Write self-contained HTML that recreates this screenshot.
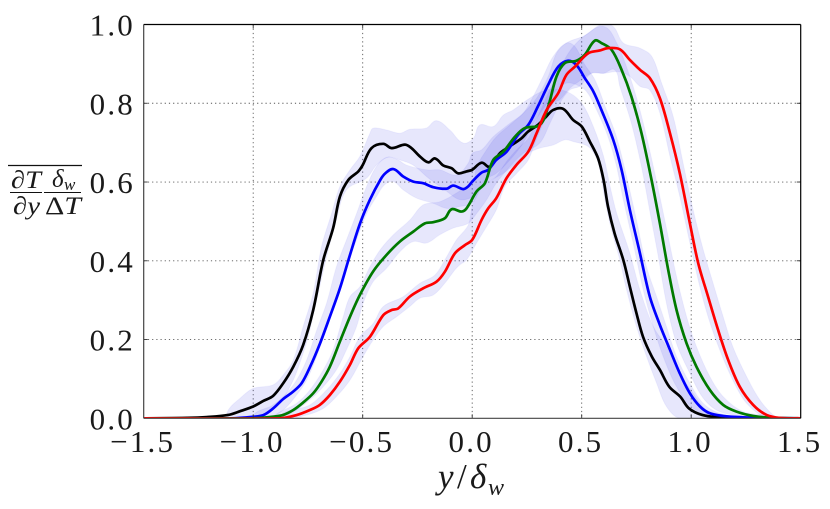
<!DOCTYPE html>
<html lang="en">
<head>
<meta charset="utf-8">
<title>Mean temperature gradient profile</title>
<style>
html,body{margin:0;padding:0;background:#fff;width:830px;height:509px;overflow:hidden}
svg{display:block}
text{font-family:"Liberation Serif","DejaVu Serif",serif;fill:#1a1a1a}
.tick{font-size:31px;letter-spacing:2.2px}
.math{font-style:italic}
</style>
</head>
<body>
<svg id="chart" xmlns="http://www.w3.org/2000/svg" width="830" height="509" viewBox="0 0 830 509">
  <defs>
    <clipPath id="plot-clip"><rect x="143.7" y="24.5" width="657" height="393.8"/></clipPath>
    <filter id="soft" x="-5%" y="-5%" width="110%" height="110%"><feGaussianBlur stdDeviation="0.35"/></filter>
  </defs>
  <g id="grid"></g>
  <g id="bands" clip-path="url(#plot-clip)"></g>
  <g id="lines" clip-path="url(#plot-clip)"></g>
  <g id="axes"></g>
  <g id="xlabels"></g>
  <g id="ylabels"></g>
  <g>
    <text x="438" y="488" class="math" font-size="35">y</text>
    <text x="457" y="488" font-size="35">/</text>
    <text x="470" y="488" class="math" font-size="35">δ</text>
    <text x="488" y="495" class="math" font-size="24">w</text>
  </g>
  <g>
    <line x1="8" y1="165.5" x2="82" y2="165.5" stroke="#111" stroke-width="1.3"/>
    <text x="11" y="188" font-size="25" textLength="30" lengthAdjust="spacingAndGlyphs"><tspan class="math">∂T</tspan></text>
    <line x1="10" y1="192.5" x2="42" y2="192.5" stroke="#111" stroke-width="1.1"/>
    <text x="13" y="214" font-size="25" textLength="27" lengthAdjust="spacingAndGlyphs"><tspan class="math">∂y</tspan></text>
    <text x="52" y="187" class="math" font-size="25">δ</text>
    <text x="64" y="190" class="math" font-size="17">w</text>
    <line x1="44" y1="192.5" x2="81" y2="192.5" stroke="#111" stroke-width="1.1"/>
    <text x="45" y="214" font-size="25" textLength="36" lengthAdjust="spacingAndGlyphs">Δ<tspan class="math">T</tspan></text>
  </g>
</svg>
<script>
const xTickValues = [-1.5, -1.0, -0.5, 0.0, 0.5, 1.0, 1.5];
const xTickLabels = ["−1.5", "−1.0", "−0.5", "0.0", "0.5", "1.0", "1.5"];
const yTickValues = [0.0, 0.2, 0.4, 0.6, 0.8, 1.0];
const yTickLabels = ["0.0", "0.2", "0.4", "0.6", "0.8", "1.0"];

const blackLine = [[-1.5,0],[-1.3,.001],[-1.213,.003],[-1.114,.0085],[-1.06,.018],[-1,.03],[-.954,.044],[-.909,.057],[-.863,.089],[-.817,.131],[-.772,.186],[-.726,.275],[-.68,.402],[-.635,.483],[-.604,.563],[-.566,.605],[-.52,.627],[-.5,.643],[-.46,.686],[-.406,.697],[-.368,.686],[-.307,.695],[-.277,.686],[-.239,.665],[-.2,.65],[-.17,.66],[-.132,.642],[-.094,.635],[-.064,.622],[-.026,.627],[0,.631],[.043,.649],[.08,.639],[.126,.673],[.17,.69],[.225,.711],[.255,.728],[.3,.745],[.338,.766],[.37,.783],[.415,.786],[.46,.758],[.5,.741],[.537,.703],[.575,.66],[.6,.605],[.62,.538],[.65,.47],[.69,.402],[.72,.334],[.75,.267],[.78,.207],[.82,.157],[.857,.123],[.9,.08],[.95,.055],[.99,.025],[1.05,.0085],[1.13,.002],[1.25,0],[1.5,0]];
const blueLine = [[-1.5,0],[-1.1,0],[-1,.004],[-.954,.008],[-.909,.025],[-.863,.049],[-.817,.068],[-.779,.089],[-.74,.131],[-.695,.19],[-.65,.258],[-.604,.33],[-.558,.415],[-.512,.495],[-.467,.555],[-.42,.605],[-.397,.622],[-.36,.633],[-.315,.614],[-.269,.601],[-.224,.597],[-.178,.587],[-.117,.583],[-.087,.591],[-.041,.582],[-.018,.589],[0,.601],[.043,.624],[.073,.631],[.11,.656],[.157,.677],[.21,.72],[.256,.745],[.3,.792],[.347,.847],[.393,.893],[.438,.908],[.476,.897],[.514,.864],[.553,.83],[.59,.783],[.644,.707],[.682,.631],[.72,.529],[.766,.419],[.811,.309],[.857,.237],[.903,.174],[.948,.114],[.994,.0635],[1.04,.03],[1.085,.0127],[1.146,.006],[1.237,.0025],[1.344,.001],[1.5,0]];
const greenLine = [[-1.5,0],[-1,0],[-.909,.004],[-.863,.0085],[-.817,.021],[-.772,.04],[-.726,.0635],[-.688,.093],[-.65,.131],[-.604,.195],[-.558,.258],[-.513,.313],[-.452,.373],[-.391,.415],[-.33,.449],[-.269,.474],[-.216,.495],[-.178,.498],[-.125,.508],[-.094,.531],[-.049,.525],[-.026,.533],[.02,.576],[.058,.597],[.096,.656],[.142,.677],[.195,.715],[.24,.737],[.309,.745],[.347,.792],[.385,.868],[.423,.902],[.476,.908],[.514,.923],[.56,.959],[.59,.953],[.636,.936],[.682,.885],[.727,.817],[.773,.724],[.819,.605],[.857,.495],[.895,.377],[.933,.275],[.979,.19],[1.024,.131],[1.085,.072],[1.146,.034],[1.207,.017],[1.283,.006],[1.374,.001],[1.5,0]];
const redLine = [[-1.5,0],[-.88,0],[-.8,.0085],[-.741,.021],[-.696,.034],[-.65,.059],[-.604,.093],[-.559,.135],[-.52,.178],[-.467,.207],[-.406,.262],[-.368,.275],[-.338,.279],[-.285,.309],[-.224,.33],[-.163,.347],[-.125,.372],[-.079,.419],[-.033,.44],[0,.453],[.043,.504],[.073,.533],[.11,.559],[.157,.61],[.203,.644],[.256,.677],[.294,.724],[.34,.783],[.393,.826],[.43,.872],[.469,.893],[.53,.927],[.583,.934],[.62,.94],[.674,.937],[.72,.91],[.766,.885],[.811,.864],[.857,.813],[.903,.724],[.948,.622],[.994,.495],[1.032,.394],[1.077,.309],[1.123,.224],[1.169,.148],[1.222,.08],[1.283,.034],[1.344,.0085],[1.405,.001],[1.5,0]];

const blackBand = [[-1.114,.0],[-1.114,.021],[-1.06,.051],[-1,.076],[-.909,.085],[-.863,.11],[-.817,.148],[-.772,.233],[-.726,.318],[-.688,.436],[-.642,.52],[-.604,.589],[-.558,.631],[-.513,.665],[-.467,.724],[-.452,.737],[-.391,.732],[-.33,.724],[-.285,.734],[-.21,.737],[-.163,.756],[-.102,.732],[-.041,.699],[.005,.711],[.035,.745],[.096,.741],[.142,.77],[.187,.783],[.263,.813],[.34,.834],[.43,.83],[.5,.8],[.553,.741],[.6,.665],[.63,.588],[.66,.52],[.72,.419],[.766,.326],[.827,.233],[.887,.182],[.948,.114],[1.009,.0635],[1.07,.021],[1.16,.003],[.948,0],[.887,.03],[.842,.089],[.796,.157],[.75,.233],[.705,.326],[.674,.402],[.636,.478],[.606,.555],[.583,.631],[.568,.66],[.53,.69],[.46,.703],[.423,.707],[.37,.694],[.309,.686],[.256,.673],[.202,.648],[.142,.622],[.088,.605],[.035,.58],[.005,.563],[-.056,.555],[-.125,.58],[-.2,.61],[-.27,.643],[-.33,.656],[-.384,.663],[-.437,.643],[-.482,.61],[-.574,.58],[-.62,.504],[-.665,.41],[-.71,.3],[-.749,.207],[-.787,.14],[-.817,.097],[-.863,.051],[-.924,.017],[-1,.004]];
const blueBand = [[-1,.004],[-.909,.034],[-.848,.0635],[-.802,.097],[-.756,.148],[-.71,.224],[-.665,.292],[-.62,.385],[-.574,.453],[-.528,.52],[-.482,.589],[-.437,.64],[-.39,.663],[-.345,.658],[-.3,.643],[-.208,.631],[-.148,.631],[-.072,.618],[-.018,.648],[0,.673],[.043,.682],[.096,.715],[.172,.749],[.233,.775],[.278,.817],[.324,.868],[.37,.919],[.43,.953],[.469,.944],[.514,.898],[.56,.86],[.613,.783],[.659,.715],[.705,.614],[.75,.504],[.796,.385],[.842,.309],[.887,.233],[.933,.157],[.994,.089],[1.055,.038],[1.13,.0127],[1.237,.004],[1.344,.001],[1.13,.001],[1.009,.025],[.933,.08],[.872,.157],[.827,.233],[.781,.326],[.735,.445],[.69,.555],[.659,.64],[.62,.715],[.568,.783],[.522,.83],[.476,.847],[.43,.851],[.385,.834],[.332,.792],[.286,.754],[.233,.699],[.172,.656],[.11,.622],[.058,.605],[0,.546],[-.056,.538],[-.117,.533],[-.178,.546],[-.254,.559],[-.315,.58],[-.36,.601],[-.4,.593],[-.437,.563],[-.482,.52],[-.528,.453],[-.574,.385],[-.62,.309],[-.665,.233],[-.71,.157],[-.756,.097],[-.802,.059],[-.863,.021],[-.924,.004]];
const greenBand = [[-.909,.004],[-.802,.038],[-.741,.072],[-.68,.123],[-.635,.174],[-.589,.258],[-.558,.309],[-.513,.334],[-.467,.385],[-.42,.428],[-.36,.466],[-.284,.504],[-.224,.542],[-.148,.55],[-.072,.572],[.005,.605],[.02,.639],[.066,.682],[.11,.715],[.172,.745],[.233,.775],[.294,.813],[.347,.868],[.385,.927],[.43,.953],[.506,.97],[.6,.995],[.66,.953],[.72,.868],[.766,.783],[.81,.682],[.857,.563],[.895,.461],[.933,.36],[.979,.258],[1.024,.182],[1.085,.106],[1.146,.055],[1.237,.017],[1.374,.001],[1.283,.002],[1.13,.017],[1.055,.051],[.994,.114],[.933,.19],[.887,.292],[.85,.41],[.81,.529],[.773,.639],[.727,.749],[.674,.843],[.65,.885],[.6,.876],[.545,.876],[.49,.843],[.446,.834],[.4,.8],[.355,.749],[.309,.699],[.233,.673],[.172,.639],[.11,.597],[.066,.555],[.02,.52],[-.018,.495],[-.087,.483],[-.148,.466],[-.208,.445],[-.269,.449],[-.33,.423],[-.391,.381],[-.452,.347],[-.498,.292],[-.528,.233],[-.574,.174],[-.62,.123],[-.68,.08],[-.741,.047],[-.802,.021],[-.863,.004]];
const redBand = [[-.88,0],[-.741,.034],[-.665,.072],[-.604,.114],[-.558,.157],[-.513,.207],[-.452,.241],[-.406,.284],[-.315,.309],[-.239,.343],[-.17,.364],[-.117,.41],[-.072,.453],[-.018,.491],[0,.538],[.035,.58],[.073,.597],[.11,.614],[.157,.652],[.203,.682],[.256,.711],[.294,.758],[.34,.817],[.385,.868],[.43,.919],[.476,.953],[.53,.978],[.59,1.0],[.644,.995],[.69,.953],[.766,.94],[.82,.919],[.865,.851],[.918,.766],[.963,.648],[1.009,.529],[1.055,.428],[1.1,.343],[1.146,.258],[1.19,.182],[1.253,.106],[1.313,.047],[1.374,.0085],[1.405,0],[1.344,0],[1.253,.038],[1.19,.097],[1.13,.174],[1.077,.258],[1.032,.351],[.994,.445],[.948,.563],[.903,.665],[.857,.775],[.81,.834],[.766,.843],[.72,.868],[.667,.88],[.6,.876],[.545,.876],[.476,.851],[.446,.838],[.4,.809],[.37,.8],[.324,.749],[.286,.699],[.256,.656],[.203,.622],[.149,.589],[.11,.529],[.066,.487],[.02,.445],[-.026,.402],[-.056,.39],[-.079,.377],[-.125,.343],[-.178,.313],[-.239,.305],[-.285,.284],[-.345,.258],[-.406,.233],[-.452,.199],[-.498,.157],[-.558,.097],[-.62,.055],[-.68,.025],[-.756,.0085]];

const NS = "http://www.w3.org/2000/svg";
const plotLeft = 143.7, plotRight = 800.7, plotTop = 24.5, plotBottom = 418.3;
const xMin = -1.5, xMax = 1.5, yMin = 0, yMax = 1;
function xScale(v) { return plotLeft + (v - xMin) / (xMax - xMin) * (plotRight - plotLeft); }
function yScale(v) { return plotBottom - (v - yMin) / (yMax - yMin) * (plotBottom - plotTop); }
function makeEl(tag, parent, attrs) {
  const el = document.createElementNS(NS, tag);
  for (const key in attrs) el.setAttribute(key, attrs[key]);
  parent.appendChild(el);
  return el;
}
function smoothPath(rows, closed) {
  const pts = rows.map(function (p) { return [xScale(p[0]), yScale(p[1])]; });
  const n = pts.length;
  function at(i) {
    if (closed) return pts[(i + n) % n];
    return pts[Math.max(0, Math.min(n - 1, i))];
  }
  function tangent(i) {
    const a = at(i - 1), b = at(i + 1);
    const dx = b[0] - a[0], dy = b[1] - a[1];
    const len = Math.hypot(dx, dy) || 1;
    return [dx / len, dy / len];
  }
  let d = "M" + pts[0][0].toFixed(2) + " " + pts[0][1].toFixed(2);
  const last = closed ? n : n - 1;
  for (let i = 0; i < last; i++) {
    const p1 = at(i), p2 = at(i + 1);
    const seg = Math.hypot(p2[0] - p1[0], p2[1] - p1[1]) / 3;
    const t1 = tangent(i), t2 = tangent(i + 1);
    d += "C" + (p1[0] + t1[0] * seg).toFixed(2) + " " + (p1[1] + t1[1] * seg).toFixed(2) + " " +
      (p2[0] - t2[0] * seg).toFixed(2) + " " + (p2[1] - t2[1] * seg).toFixed(2) + " " +
      p2[0].toFixed(2) + " " + p2[1].toFixed(2);
  }
  return closed ? d + "Z" : d;
}

const gridGroup = document.getElementById("grid");
const axesGroup = document.getElementById("axes");
const xLabelGroup = document.getElementById("xlabels");
const yLabelGroup = document.getElementById("ylabels");
const bandGroup = document.getElementById("bands");
const lineGroup = document.getElementById("lines");

xTickValues.forEach(function (v, i) {
  const px = xScale(v);
  if (i > 0 && i < xTickValues.length - 1) {
    const g = makeEl("line", gridGroup, { x1: px, x2: px, y1: plotTop, y2: plotBottom, stroke: "#555", "stroke-width": 0.9, "stroke-dasharray": "1.2 3" });
    
    
    const t1 = makeEl("line", axesGroup, { x1: px, x2: px, y1: plotBottom, y2: plotBottom - 4, stroke: "#333", "stroke-width": 0.9 });
    
    
    const t2 = makeEl("line", axesGroup, { x1: px, x2: px, y1: plotTop, y2: plotTop + 4, stroke: "#333", "stroke-width": 0.9 });
    
    
  }
  const label = makeEl("text", xLabelGroup, { x: px - 1, y: 452, "text-anchor": "middle", "class": "tick" });
  label.textContent = xTickLabels[i];
  
  
});

yTickValues.forEach(function (v, i) {
  const py = yScale(v);
  if (i > 0 && i < yTickValues.length - 1) {
    const g = makeEl("line", gridGroup, { x1: plotLeft, x2: plotRight, y1: py, y2: py, stroke: "#555", "stroke-width": 0.9, "stroke-dasharray": "1.2 3" });
    
    
    const t1 = makeEl("line", axesGroup, { x1: plotLeft, x2: plotLeft + 4, y1: py, y2: py, stroke: "#333", "stroke-width": 0.9 });
    
    
    const t2 = makeEl("line", axesGroup, { x1: plotRight, x2: plotRight - 4, y1: py, y2: py, stroke: "#333", "stroke-width": 0.9 });
    
    
  }
  const label = makeEl("text", yLabelGroup, { x: 135, y: py + 11, "text-anchor": "end", "class": "tick" });
  label.textContent = yTickLabels[i];
  
  
});

[blackBand, blueBand, greenBand, redBand].forEach(function (rows) {
  const band = makeEl("path", bandGroup, { d: smoothPath(rows, true), fill: "#3a3ce6", "fill-opacity": 0.12, stroke: "#3a3ce6", "stroke-opacity": 0.05, "stroke-width": 1 });
  
  
});

const lineBlack = makeEl("path", lineGroup, { d: smoothPath(blackLine, false), fill: "none", stroke: "#000", "stroke-width": 2.7, "stroke-linejoin": "round", filter: "url(#soft)" });


const lineBlue = makeEl("path", lineGroup, { d: smoothPath(blueLine, false), fill: "none", stroke: "#0000ff", "stroke-width": 2.7, "stroke-linejoin": "round", filter: "url(#soft)" });


const lineGreen = makeEl("path", lineGroup, { d: smoothPath(greenLine, false), fill: "none", stroke: "#007a00", "stroke-width": 2.7, "stroke-linejoin": "round", filter: "url(#soft)" });


const lineRed = makeEl("path", lineGroup, { d: smoothPath(redLine, false), fill: "none", stroke: "#ff0000", "stroke-width": 2.7, "stroke-linejoin": "round", filter: "url(#soft)" });



const frameLeft = makeEl("line", axesGroup, { x1: plotLeft, x2: plotLeft, y1: plotTop, y2: plotBottom, stroke: "#444", "stroke-width": 1.2 });


const frameBottom = makeEl("line", axesGroup, { x1: plotLeft, x2: plotRight, y1: plotBottom, y2: plotBottom, stroke: "#444", "stroke-width": 1.2 });


const frameTop = makeEl("line", axesGroup, { x1: plotLeft, x2: plotRight, y1: plotTop, y2: plotTop, stroke: "#000", "stroke-width": 1.2 });


const frameRight = makeEl("line", axesGroup, { x1: plotRight, x2: plotRight, y1: plotTop, y2: plotBottom, stroke: "#000", "stroke-width": 1.2 });


</script>
</body>
</html>
